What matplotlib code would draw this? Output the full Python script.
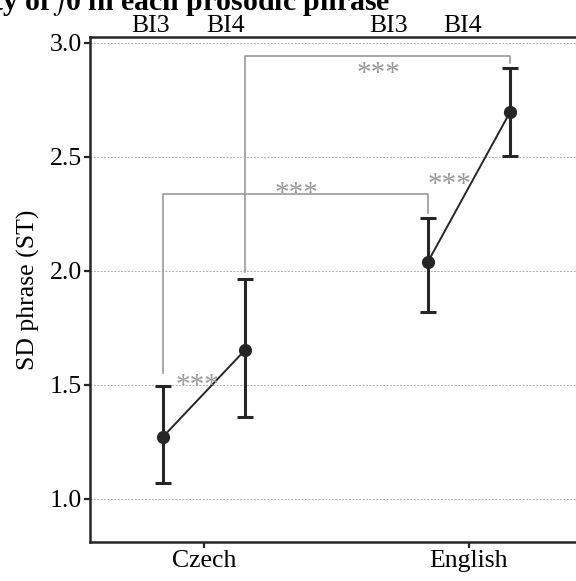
import matplotlib
matplotlib.use("Agg")
import matplotlib.pyplot as plt
import matplotlib.transforms as mtransforms

plt.rcParams['font.family'] = ['Liberation Serif', 'DejaVu Serif']
plt.rcParams['mathtext.fontset'] = 'stix'

# data
languages = ['Czech', 'English']
boundaries = ['BI3', 'BI4']
means = {'Czech': [1.272, 1.653], 'English': [2.04, 2.697]}
upper = {'Czech': [1.496, 1.965], 'English': [2.232, 2.89]}
lower = {'Czech': [1.07, 1.36], 'English': [1.82, 2.504]}
dodge = [-0.155, 0.155]

# top labels (x in data units)
top_label_x = [0.80, 1.083, 1.698, 1.974]
top_label_text = ['BI3', 'BI4', 'BI3', 'BI4']

# significance brackets: (x left, x right, y left foot, y top, y right foot)
brackets = [
    (1 - 0.155, 2 - 0.155, 1.553, 2.338, 2.254),
    (1 + 0.155, 2 + 0.155, 1.996, 2.943, 2.912),
]
stars = [(0.974, 1.466), (1.928, 2.348), (1.351, 2.308), (1.660, 2.835)]

dark = '#262626'
grey = '#9a9a9a'
fs = 18.5

fig = plt.figure(figsize=(5.76, 5.81), dpi=100)
ax = fig.add_axes([90 / 576, 39 / 581, 493 / 576, 505 / 581])

for i, lang in enumerate(languages):
    xs = [i + 1 + d for d in dodge]
    ys = means[lang]
    ax.plot(xs, ys, color=dark, lw=1.4, zorder=3)
    yerr = [[m - lo for m, lo in zip(ys, lower[lang])],
            [up - m for m, up in zip(ys, upper[lang])]]
    ax.errorbar(xs, ys, yerr=yerr, fmt='o', color=dark, ms=8.5,
                elinewidth=2.2, capsize=6, capthick=2.2, zorder=4)

for xl, xr, yl, yt, yr in brackets:
    ax.plot([xl, xl, xr, xr], [yl, yt, yt, yr], color=grey, lw=1.2, zorder=2)

for sx, sy in stars:
    ax.text(sx, sy, '***', color=grey, fontsize=21, ha='center', va='baseline')

trans = mtransforms.blended_transform_factory(ax.transData, fig.transFigure)
for tx, tt in zip(top_label_x, top_label_text):
    ax.text(tx, 1 - 32 / 581, tt, transform=trans, fontsize=fs,
            ha='center', va='baseline', clip_on=False)

ax.set_xlim(0.57, 2.43)
ax.set_ylim(0.811, 3.026)
ax.set_xticks([1, 2])
ax.set_xticklabels(languages, fontsize=fs)
ax.set_yticks([1.0, 1.5, 2.0, 2.5, 3.0])
ax.set_yticklabels(['1.0', '1.5', '2.0', '2.5', '3.0'], fontsize=fs)
ax.tick_params(direction='out', length=4, width=1.6, color=dark, pad=2)
ax.set_ylabel('SD phrase (ST)', fontsize=fs, labelpad=7)
ax.yaxis.grid(True, color='#b0b0b0', linestyle=(0, (2, 1.5)), lw=0.7)
ax.set_axisbelow(True)
for s in ax.spines.values():
    s.set_color(dark)
    s.set_linewidth(1.8)

# title, cut off at the top of the image
fig.text(390 / 576, 1 - 10 / 581, r'Variability of $\mathit{f}$0 in each prosodic phrase',
         fontsize=21.5, fontweight='bold', ha='right', va='baseline')

fig.savefig('out.png', dpi=100)
